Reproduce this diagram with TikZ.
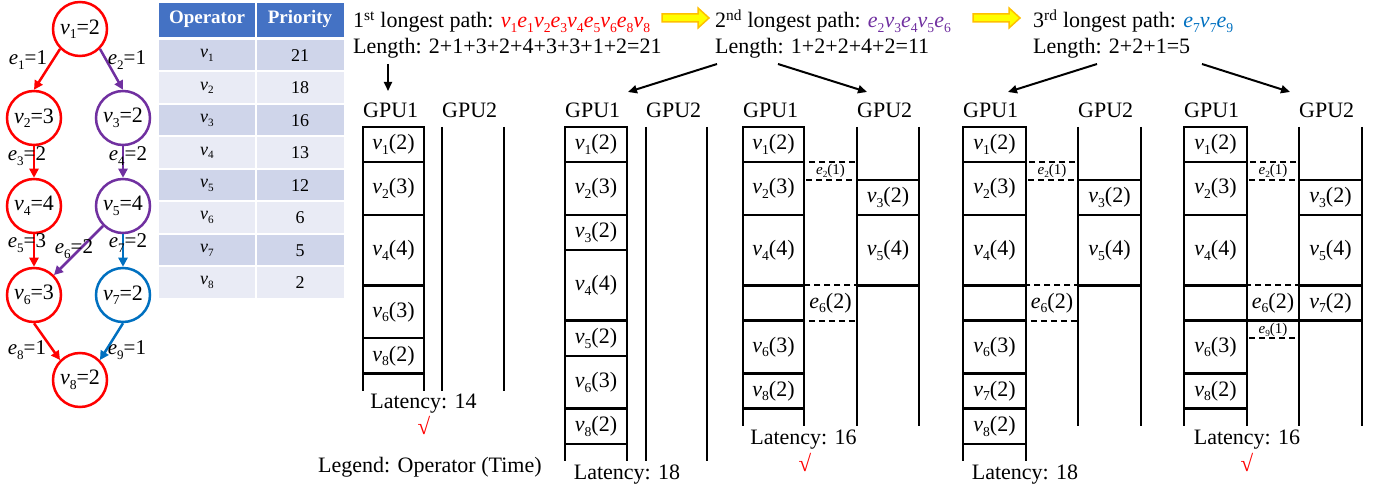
\documentclass[tikz,border=0pt]{standalone}
\usepackage{fontspec}
\setmainfont{Liberation Serif}
\usetikzlibrary{arrows.meta}
\definecolor{cred}{HTML}{FF0000}
\definecolor{cpur}{HTML}{7030A0}
\definecolor{cblu}{HTML}{0070C0}
\definecolor{thead}{HTML}{4472C4}
\definecolor{trowa}{HTML}{CFD5EA}
\definecolor{trowb}{HTML}{E9EBF5}
\definecolor{aorange}{HTML}{FFC000}
\definecolor{ayellow}{HTML}{FFFF00}
\newcommand{\sbx}[1]{\raisebox{-0.45ex}{\scalebox{0.62}{#1}}}
\newcommand{\vv}[1]{\textit{v}\sbx{#1}}
\newcommand{\ee}[1]{\textit{e}\sbx{#1}}
\newcommand{\fs}[1]{\fontsize{#1}{#1}\selectfont}
\begin{document}
\begin{tikzpicture}[x=1pt,y=-1pt,
  gnode/.style={circle,draw,line width=2.5pt,minimum size=54pt,inner sep=0pt,font=\fs{22}},
  elab/.style={inner sep=0pt,font=\fs{21}},
  garrow/.style={line width=2.5pt,-{Triangle[length=9pt,width=9pt]}},
  thd/.style={inner sep=0pt,font=\fs{19}\bfseries,text=white},
  tcell/.style={inner sep=0pt,font=\fs{18}},
  toptext/.style={inner sep=0pt,font=\fs{22},anchor=base west},
  barrow/.style={line width=2pt,-{Triangle[length=9pt,width=8pt]}},
  oarrow/.style={draw=aorange,fill=ayellow,line width=1.5pt,line join=miter},
  gpul/.style={inner sep=0pt,font=\fs{22},anchor=base west},
  op/.style={inner sep=0pt,font=\fs{22}},
  smallop/.style={inner sep=0pt,font=\fs{15}},
  col/.style={line width=2.5pt},
  hl/.style={line width=2.5pt,line cap=rect},
  dsh/.style={line width=2pt,dash pattern=on 6pt off 4pt},
  lat/.style={inner sep=0pt,font=\fs{22},anchor=base},
  chk/.style={inner sep=0pt,font=\fs{23},text=cred},
]
\useasboundingbox (0,0) rectangle (1385,489);

% ---------- graph ----------
\node[gnode,draw=cred] (v1) at (80,29) {\vv1=2};
\node[gnode,draw=cred] (v2) at (34,118) {\vv2=3};
\node[gnode,draw=cpur] (v3) at (123,118) {\vv3=2};
\node[gnode,draw=cred] (v4) at (34,206) {\vv4=4};
\node[gnode,draw=cpur] (v5) at (123,206) {\vv5=4};
\node[gnode,draw=cred] (v6) at (34,295) {\vv6=3};
\node[gnode,draw=cblu] (v7) at (123,295) {\vv7=2};
\node[gnode,draw=cred] (v8) at (80,380) {\vv8=2};

\draw[garrow,cred] (v1.south west) -- (v2.north);
\draw[garrow,cpur] (v1.south east) -- (v3.north);
\draw[garrow,cred] (v2) -- (v4);
\draw[garrow,cpur] (v3) -- (v5);
\draw[garrow,cred] (v4) -- (v6);
\draw[garrow,cpur] (v5.south west) -- (v6.north east);
\draw[garrow,cblu] (v5) -- (v7);
\draw[garrow,cred] (v6.south) -- (v8.north west);
\draw[garrow,cblu] (v7.south) -- (v8.north east);

\node[elab] (le1) at (28,60) {\ee1=1};
\node[elab] (le2) at (127,60) {\ee2=1};
\node[elab] (le3) at (27,156) {\ee3=2};
\node[elab] (le4) at (128,156) {\ee4=2};
\node[elab] (le5) at (27,243) {\ee5=3};
\node[elab] (le6) at (74,249) {\ee6=2};
\node[elab] (le7) at (128,243) {\ee7=2};
\node[elab] (le8) at (27,350) {\ee8=1};
\node[elab] (le9) at (127,350) {\ee9=1};

% ---------- table ----------
\fill[thead] (159,3) rectangle (255,37);
\fill[thead] (257,3) rectangle (344,37);
\node[thd] (th1) at (207,19) {Operator};
\node[thd] (th2) at (300,19) {Priority};
\foreach \i/\p in {1/21,2/18,3/16,4/13,5/12,6/6,7/5,8/2}{
  \pgfmathsetmacro{\ya}{39+32.5*(\i-1)+1}
  \pgfmathsetmacro{\yb}{39+32.5*\i-1}
  \pgfmathsetmacro{\yc}{39+32.5*(\i-0.5)}
  \pgfmathtruncatemacro{\odd}{mod(\i,2)}
  \ifnum\odd=1 \def\rc{trowa}\else\def\rc{trowb}\fi
  \fill[\rc] (159,\ya) rectangle (255,\yb);
  \fill[\rc] (257,\ya) rectangle (344,\yb);
  \node[tcell] (tv\i) at (207,\yc) {\vv{\i}};
  \node[tcell] (tp\i) at (300,\yc) {\p};
}

% ---------- top texts ----------
\node[toptext] (p1) at (353,28) {1\textsuperscript{st} longest path: \textcolor{cred}{\vv1\ee1\vv2\ee3\vv4\ee5\vv6\ee8\vv8}};
\node[toptext] (l1) at (353,54) {Length: 2+1+3+2+4+3+3+1+2=21};
\node[toptext] (p2) at (715,28) {2\textsuperscript{nd} longest path: \textcolor{cpur}{\ee2\vv3\ee4\vv5\ee6}};
\node[toptext] (l2) at (715,54) {Length: 1+2+2+4+2=11};
\node[toptext] (p3) at (1033,28) {3\textsuperscript{rd} longest path: \textcolor{cblu}{\ee7\vv7\ee9}};
\node[toptext] (l3) at (1033,54) {Length: 2+2+1=5};

\draw[oarrow] (662,14) -- (698,14) -- (698,8) -- (709,18) -- (698,28) -- (698,22) -- (662,22) -- cycle;
\draw[oarrow] (973,14) -- (1009,14) -- (1009,8) -- (1020,18) -- (1009,28) -- (1009,22) -- (973,22) -- cycle;

\coordinate (a1s) at (388,64); \coordinate (a1e) at (388,91);
\coordinate (a2s) at (717,64); \coordinate (a2e) at (628,92);
\coordinate (a3s) at (778,64); \coordinate (a3e) at (867,92);
\coordinate (a4s) at (1097,64); \coordinate (a4e) at (1008,92);
\coordinate (a5s) at (1202,64); \coordinate (a5e) at (1290,92);
\draw[barrow] (a1s) -- (a1e);
\draw[barrow] (a2s) -- (a2e);
\draw[barrow] (a3s) -- (a3e);
\draw[barrow] (a4s) -- (a4e);
\draw[barrow] (a5s) -- (a5e);

% ---------- GPU labels ----------
\foreach \xa/\xb/\n in {363/442/1,565/646/2,743/857/3,963/1078/4,1184/1299/5}{
  \node[gpul] (g\n a) at (\xa,118) {GPU1};
  \node[gpul] (g\n b) at (\xb,118) {GPU2};
}

% ---------- schedules ----------
\begin{scope}[yshift=-127pt,y=-17.6pt]
% panel 1
\draw[col] (363,0) -- (363,15) (424,0) -- (424,15) (442,0) -- (442,15) (504,0) -- (504,15);
\foreach \t in {0,2,5,9,12,14}{\draw[hl] (363,\t) -- (424,\t);}
\node[op] (s1a) at (393.5,1) {\vv1(2)};
\node[op] (s1b) at (393.5,3.5) {\vv2(3)};
\node[op] (s1c) at (393.5,7) {\vv4(4)};
\node[op] (s1d) at (393.5,10.5) {\vv6(3)};
\node[op] (s1e) at (393.5,13) {\vv8(2)};
% panel 2
\draw[col] (565,0) -- (565,19) (627,0) -- (627,19) (646,0) -- (646,19) (707,0) -- (707,19);
\foreach \t in {0,2,5,7,11,13,16,18}{\draw[hl] (565,\t) -- (627,\t);}
\node[op] (s2a) at (596,1) {\vv1(2)};
\node[op] (s2b) at (596,3.5) {\vv2(3)};
\node[op] (s2c) at (596,6) {\vv3(2)};
\node[op] (s2d) at (596,9) {\vv4(4)};
\node[op] (s2e) at (596,12) {\vv5(2)};
\node[op] (s2f) at (596,14.5) {\vv6(3)};
\node[op] (s2g) at (596,17) {\vv8(2)};
% panel 3
\draw[dsh] (804,2) rectangle (857,3);
\draw[dsh] (804,9) rectangle (857,11);
\draw[col] (743,0) -- (743,17) (804,0) -- (804,17) (857,0) -- (857,17) (919,0) -- (919,17);
\foreach \t in {0,2,5,9,11,14,16}{\draw[hl] (743,\t) -- (804,\t);}
\foreach \t in {3,5,9}{\draw[hl] (857,\t) -- (919,\t);}
\node[op] (s3a) at (773.5,1) {\vv1(2)};
\node[op] (s3b) at (773.5,3.5) {\vv2(3)};
\node[op] (s3c) at (773.5,7) {\vv4(4)};
\node[op] (s3d) at (773.5,12.5) {\vv6(3)};
\node[op] (s3e) at (773.5,15) {\vv8(2)};
\node[op] (s3f) at (888,4) {\vv3(2)};
\node[op] (s3g) at (888,7) {\vv5(4)};
\node[smallop] (s3h) at (830.5,2.5) {\ee2(1)};
\node[op] (s3i) at (830.5,10) {\ee6(2)};
% panel 4
\draw[dsh] (1026,2) rectangle (1078,3);
\draw[dsh] (1026,9) rectangle (1078,11);
\draw[col] (963,0) -- (963,19) (1026,0) -- (1026,19) (1078,0) -- (1078,17) (1141,0) -- (1141,17);
\foreach \t in {0,2,5,9,11,14,16,18}{\draw[hl] (963,\t) -- (1026,\t);}
\foreach \t in {3,5,9}{\draw[hl] (1078,\t) -- (1141,\t);}
\node[op] (s4a) at (994.5,1) {\vv1(2)};
\node[op] (s4b) at (994.5,3.5) {\vv2(3)};
\node[op] (s4c) at (994.5,7) {\vv4(4)};
\node[op] (s4d) at (994.5,12.5) {\vv6(3)};
\node[op] (s4e) at (994.5,15) {\vv7(2)};
\node[op] (s4f) at (994.5,17) {\vv8(2)};
\node[op] (s4g) at (1109.5,4) {\vv3(2)};
\node[op] (s4h) at (1109.5,7) {\vv5(4)};
\node[smallop] (s4i) at (1052,2.5) {\ee2(1)};
\node[op] (s4j) at (1052,10) {\ee6(2)};
% panel 5
\draw[dsh] (1247,2) rectangle (1299,3);
\draw[dsh] (1247,9) rectangle (1299,11);
\draw[dsh] (1247,11) rectangle (1299,12);
\draw[col] (1184,0) -- (1184,17) (1247,0) -- (1247,17) (1299,0) -- (1299,17) (1362,0) -- (1362,17);
\foreach \t in {0,2,5,9,14,16}{\draw[hl] (1184,\t) -- (1247,\t);}
\foreach \t in {3,5,9}{\draw[hl] (1299,\t) -- (1362,\t);}
\draw[hl] (1184,11) -- (1362,11);
\node[op] (s5a) at (1215.5,1) {\vv1(2)};
\node[op] (s5b) at (1215.5,3.5) {\vv2(3)};
\node[op] (s5c) at (1215.5,7) {\vv4(4)};
\node[op] (s5d) at (1215.5,12.5) {\vv6(3)};
\node[op] (s5e) at (1215.5,15) {\vv8(2)};
\node[op] (s5f) at (1330.5,4) {\vv3(2)};
\node[op] (s5g) at (1330.5,7) {\vv5(4)};
\node[op] (s5h) at (1330.5,10) {\vv7(2)};
\node[smallop] (s5i) at (1273,2.5) {\ee2(1)};
\node[op] (s5j) at (1273,10) {\ee6(2)};
\node[smallop] (s5k) at (1273,11.5) {\ee9(1)};
\end{scope}

% ---------- latency ----------
\node[lat] (lat1) at (423.5,408) {Latency: 14};
\node[lat] (lat2) at (627,479) {Latency: 18};
\node[lat] (lat3) at (803.5,444) {Latency: 16};
\node[lat] (lat4) at (1025,479) {Latency: 18};
\node[lat] (lat5) at (1247,444) {Latency: 16};
\node[chk] (c1) at (424,425) {√};
\node[chk] (c3) at (805,462) {√};
\node[chk] (c5) at (1247,462) {√};
\node[toptext] (leg) at (318,472) {Legend: Operator (Time)};
\end{tikzpicture}
\end{document}
